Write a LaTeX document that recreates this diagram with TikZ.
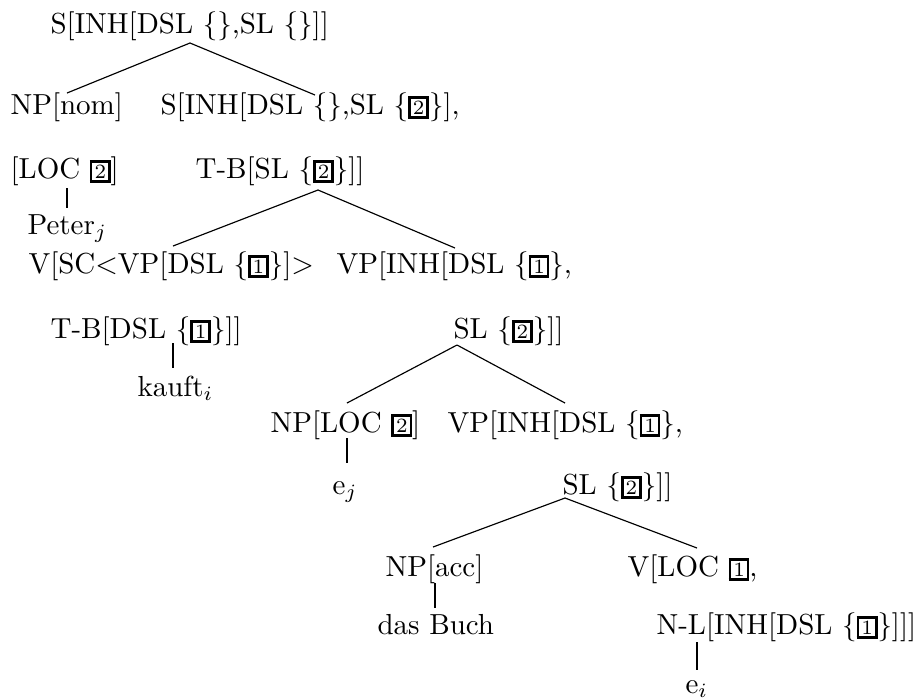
\documentclass[tikz,border=0pt]{standalone}
\usepackage{tikz}

\newcommand{\bx}[1]{{\setlength{\fboxsep}{0.7pt}\setlength{\fboxrule}{0.9pt}\fbox{\scriptsize #1}}}

\begin{document}
\begin{tikzpicture}[x=0.345pt,y=-0.345pt,
    lbl/.style={anchor=base west,inner sep=0pt},
    branch/.style={line width=0.4pt},
    stem/.style={line width=0.8pt}]
  \useasboundingbox (0,0) rectangle (922,697);

  % categories
  \node[lbl] (root) at (50,33) {S[INH[DSL \{\},SL \{\}]]};
  \node[lbl] (npnom) at (10,114) {NP[nom]};
  \node[lbl] (sinh) at (160,114) {S[INH[DSL \{\},SL \{\bx{2}\}],};
  \node[lbl] (loc) at (10,178) {[LOC \bx{2}]};
  \node[lbl] (tbsl) at (195,178) {T-B[SL \{\bx{2}\}]]};
  \node[lbl] (peter) at (27,234) {Peter$_j$};
  \node[lbl] (vsc) at (28,273) {V[SC$<$VP[DSL \{\bx{1}\}]$>$};
  \node[lbl] (vpinh) at (336,273) {VP[INH[DSL \{\bx{1}\},};
  \node[lbl] (tbdsl) at (50,338) {T-B[DSL \{\bx{1}\}]]};
  \node[lbl] (slb) at (453,338) {SL \{\bx{2}\}]]};
  \node[lbl] (kauft) at (137,396) {kauft$_i$};
  \node[lbl] (nploc) at (270,432) {NP[LOC \bx{2}]};
  \node[lbl] (vpinhb) at (447,432) {VP[INH[DSL \{\bx{1}\},};
  \node[lbl] (ej) at (332,494) {e$_j$};
  \node[lbl] (slc) at (562,494) {SL \{\bx{2}\}]]};
  \node[lbl] (npacc) at (385,576) {NP[acc]};
  \node[lbl] (vloc) at (627,576) {V[LOC \bx{1},};
  \node[lbl] (buch) at (377,634) {das Buch};
  \node[lbl] (nl) at (656,634) {N-L[INH[DSL \{\bx{1}\}]]]};
  \node[lbl] (ei) at (685,693) {e$_i$};

  % branch points
  \coordinate (root-a) at (190,43);
  \coordinate (npnom-t) at (67,93);
  \coordinate (sinh-t) at (315,95);
  \coordinate (loc-b) at (67,188);
  \coordinate (peter-t) at (67,208);
  \coordinate (tbsl-a) at (318,190);
  \coordinate (vsc-t) at (173,246);
  \coordinate (vpinh-t) at (455,248);
  \coordinate (tbdsl-b) at (173,343);
  \coordinate (kauft-t) at (173,368);
  \coordinate (slb-a) at (457,345);
  \coordinate (nploc-t) at (347,403);
  \coordinate (vpinhb-t) at (565,403);
  \coordinate (nploc-b) at (347,438);
  \coordinate (ej-t) at (347,463);
  \coordinate (slc-a) at (565,498);
  \coordinate (npacc-t) at (433,547);
  \coordinate (vloc-t) at (697,548);
  \coordinate (npacc-b) at (435,583);
  \coordinate (buch-t) at (435,608);
  \coordinate (nl-b) at (697,642);
  \coordinate (ei-t) at (697,670);

  % tree
  \draw[branch] (root-a) -- (npnom-t);
  \draw[branch] (root-a) -- (sinh-t);
  \draw[stem] (loc-b) -- (peter-t);
  \draw[branch] (tbsl-a) -- (vsc-t);
  \draw[branch] (tbsl-a) -- (vpinh-t);
  \draw[stem] (tbdsl-b) -- (kauft-t);
  \draw[branch] (slb-a) -- (nploc-t);
  \draw[branch] (slb-a) -- (vpinhb-t);
  \draw[stem] (nploc-b) -- (ej-t);
  \draw[branch] (slc-a) -- (npacc-t);
  \draw[branch] (slc-a) -- (vloc-t);
  \draw[stem] (npacc-b) -- (buch-t);
  \draw[stem] (nl-b) -- (ei-t);
\end{tikzpicture}
\end{document}
